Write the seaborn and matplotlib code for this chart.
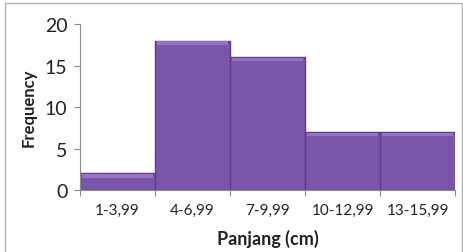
import matplotlib
matplotlib.use("Agg")
import matplotlib.pyplot as plt
import numpy as np
import pandas as pd
import seaborn as sns
from matplotlib.patches import Rectangle

# data
categories = ["1-3,99", "4-6,99", "7-9,99", "10-12,99", "13-15,99"]
frequency = [2, 18, 16, 7, 7]

df = pd.DataFrame({"Panjang": categories, "Frequency": frequency})

sns.set_theme(style="white")
plt.rcParams["font.family"] = ["Lato", "DejaVu Sans"]

fig = plt.figure(figsize=(4.64, 2.53), dpi=100)
ax = fig.add_axes([0.172, 0.245, 0.809, 0.656])

sns.barplot(
    data=df, x="Panjang", y="Frequency", color="#7B55AA",
    saturation=1, width=1.0, edgecolor="#5A3D82", linewidth=1.0, ax=ax,
)

# light bevel strip on top of each bar
for p in ax.patches:
    x, h, w = p.get_x(), p.get_height(), p.get_width()
    ax.add_patch(Rectangle((x + 0.03, h - 0.5), w - 0.06, 0.42,
                           facecolor="#9574C2", edgecolor="none", zorder=3))

ax.set_xlim(-0.5, 4.5)
ax.set_ylim(0, 20)
ax.set_yticks([0, 5, 10, 15, 20])
ax.tick_params(axis="y", labelsize=14, length=4, width=0.8, color="#8c8c8c",
               direction="out", left=True, pad=5, labelcolor="#222222")

ax.set_xticks(np.arange(-0.5, 5, 1))
ax.set_xticklabels([])
ax.set_xticks(range(len(categories)), minor=True)
ax.set_xticklabels(categories, minor=True, fontsize=11, color="#222222")
ax.tick_params(axis="x", which="major", length=4, width=0.8, color="#8c8c8c",
               direction="out", bottom=True)
ax.tick_params(axis="x", which="minor", length=0, pad=9)

for s in ["top", "right"]:
    ax.spines[s].set_visible(False)
for s in ["left", "bottom"]:
    ax.spines[s].set_color("#8c8c8c")
    ax.spines[s].set_linewidth(0.8)

ax.set_xlabel("Panjang (cm)", fontsize=13, fontweight="bold", labelpad=9,
              color="#222222")
ax.set_ylabel("Frequency", fontsize=12, fontweight="bold", labelpad=6,
              color="#222222")

# outer chart frame
fig.add_artist(Rectangle((0.011, -0.01), 0.985, 0.993, transform=fig.transFigure,
                         fill=False, edgecolor="#b0b0b0", linewidth=1.0))

fig.savefig("out.png", dpi=100)
